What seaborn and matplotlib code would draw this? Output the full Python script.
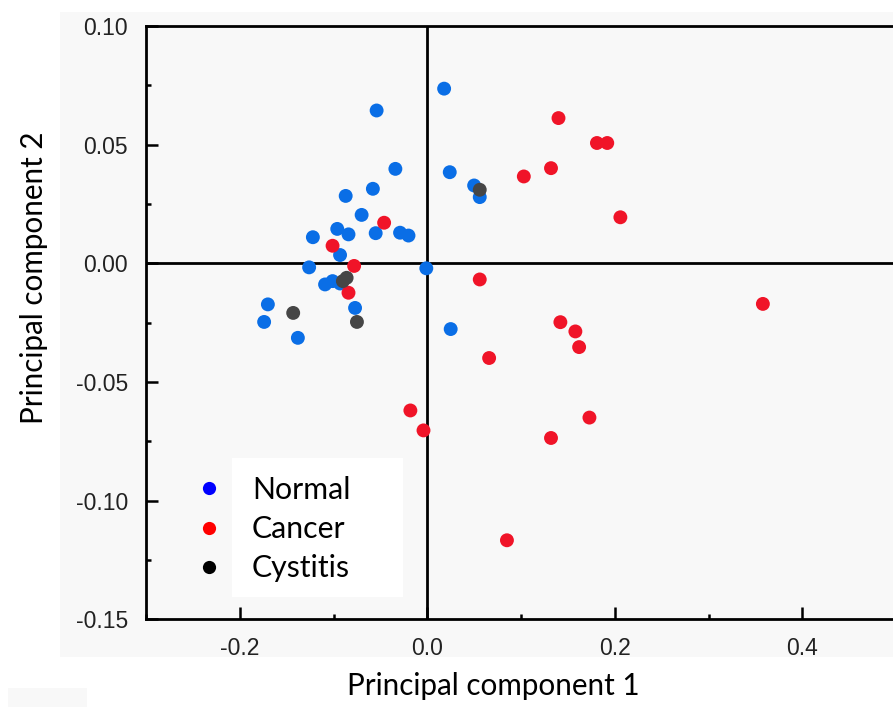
import numpy as np
import pandas as pd
import matplotlib
matplotlib.use("Agg")
import matplotlib.pyplot as plt
import seaborn as sns
from matplotlib.lines import Line2D
from matplotlib.patches import Rectangle
from matplotlib.ticker import MultipleLocator, FormatStrFormatter

# PCA scores per sample group
normal_pc1 = [0.018, -0.054, -0.034, 0.024, -0.058, -0.087, 0.050, 0.056, -0.070,
              -0.096, -0.084, -0.055, -0.029, -0.020, -0.122, -0.093, -0.126, -0.001,
              -0.109, -0.101, -0.093, -0.077, -0.170, -0.174, -0.138, 0.025]
normal_pc2 = [0.0736, 0.0644, 0.0398, 0.0384, 0.0314, 0.0284, 0.0328, 0.0279, 0.0204,
              0.0145, 0.0122, 0.0127, 0.0129, 0.0117, 0.0110, 0.0035, -0.0017, -0.0021,
              -0.0089, -0.0075, -0.0085, -0.0188, -0.0173, -0.0247, -0.0314, -0.0277]

cancer_pc1 = [-0.046, -0.101, -0.078, -0.084, 0.056, 0.140, 0.181, 0.192, 0.132, 0.103,
              0.206, 0.358, 0.142, 0.158, 0.162, 0.066, 0.173, -0.004, 0.132, 0.085, -0.018]
cancer_pc2 = [0.0171, 0.0074, -0.0011, -0.0124, -0.0068, 0.0612, 0.0507, 0.0507, 0.0401,
              0.0366, 0.0194, -0.0171, -0.0248, -0.0287, -0.0353, -0.0399, -0.0650,
              -0.0704, -0.0736, -0.1167, -0.0620]

cystitis_pc1 = [0.056, -0.086, -0.090, -0.143, -0.075]
cystitis_pc2 = [0.0310, -0.0061, -0.0075, -0.0209, -0.0247]

groups = ["Normal", "Cancer", "Cystitis"]
point_colors = ["#0a6ee6", "#f01428", "#464646"]
legend_colors = ["#0000ff", "#ff0000", "#000000"]

df = pd.DataFrame({
    "pc1": normal_pc1 + cancer_pc1 + cystitis_pc1,
    "pc2": normal_pc2 + cancer_pc2 + cystitis_pc2,
    "group": ["Normal"] * len(normal_pc1) + ["Cancer"] * len(cancer_pc1)
             + ["Cystitis"] * len(cystitis_pc1),
})

sns.set_theme(style="ticks")
plt.rcParams["font.family"] = ["Liberation Sans", "DejaVu Sans"]
plt.rcParams["axes.unicode_minus"] = False

W, H = 893, 707
fig = plt.figure(figsize=(W / 100, H / 100), dpi=100, facecolor="white")

# faint grey panel behind the plot
fig.patches.append(Rectangle((60 / W, (H - 657) / H), 1 - 60 / W, (657 - 12) / H,
                             transform=fig.transFigure, facecolor="#f8f8f8",
                             edgecolor="none", zorder=-5))
fig.patches.append(Rectangle((8 / W, 0), 79 / W, 19 / H,
                             transform=fig.transFigure, facecolor="#f8f8f8",
                             edgecolor="none", zorder=-5))

ax = fig.add_axes([146 / W, (H - 619.3) / H, (896 - 146) / W, (619.3 - 26) / H])
ax.set_facecolor("#f8f8f8")

ax.axhline(0, color="black", lw=2.0, zorder=1)
ax.axvline(0, color="black", lw=2.0, zorder=1)

sns.scatterplot(data=df, x="pc1", y="pc2", hue="group", hue_order=groups,
                palette=point_colors, s=100, linewidth=0, alpha=1, legend=False,
                ax=ax, zorder=3)

ax.set_xlim(-0.3, 0.5)
ax.set_ylim(-0.15, 0.10)
ax.set_xlabel("")
ax.set_ylabel("")

ax.xaxis.set_major_locator(MultipleLocator(0.2))
ax.xaxis.set_minor_locator(MultipleLocator(0.1))
ax.yaxis.set_major_locator(MultipleLocator(0.05))
ax.yaxis.set_minor_locator(MultipleLocator(0.025))
ax.xaxis.set_major_formatter(FormatStrFormatter("%.1f"))
ax.yaxis.set_major_formatter(FormatStrFormatter("%.2f"))

ax.tick_params(which="major", direction="in", length=8.5, width=1.8,
               labelsize=16.5, pad=13, color="black", labelcolor="#222222")
ax.tick_params(which="minor", direction="in", length=3.5, width=1.8, color="black")
ax.tick_params(top=False, right=False, which="both")

for side in ["left", "bottom", "top"]:
    ax.spines[side].set_linewidth(2.0)
    ax.spines[side].set_color("black")
ax.spines["right"].set_visible(False)

# legend: white panel behind labels, dots to its left
ax.add_patch(Rectangle((0.1147, 0.0376), 0.228, 0.2343, transform=ax.transAxes,
                       facecolor="white", edgecolor="none", zorder=4))
handles = [Line2D([0], [0], marker="o", linestyle="none", markersize=9.5,
                  markerfacecolor=c, markeredgewidth=0) for c in legend_colors]
leg = ax.legend(handles, groups, loc="upper left", bbox_to_anchor=(0.064, 0.2416),
                frameon=False, borderpad=0, borderaxespad=0, handlelength=1.0,
                handletextpad=0.917, labelspacing=0.37,
                prop={"family": "Lato", "size": 21.8})
leg.set_zorder(5)
for t in leg.get_texts():
    t.set_color("black")

fig.text(493 / W, (H - 686) / H, "Principal component 1", family="Lato",
         fontsize=21.3, ha="center", va="center", color="black")
fig.text(34 / W, (H - 278) / H, "Principal component 2", family="Lato",
         fontsize=21.3, ha="center", va="center", rotation=90, color="black")

fig.savefig("out.png", dpi=100, facecolor=fig.get_facecolor())
